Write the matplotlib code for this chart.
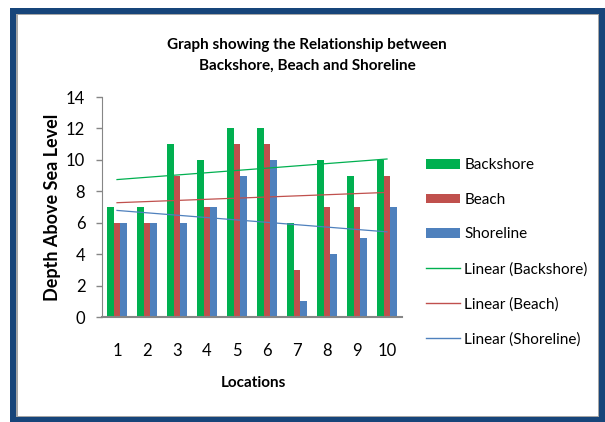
import matplotlib
matplotlib.use("Agg")
import matplotlib.pyplot as plt
import numpy as np
from matplotlib.patches import Rectangle, Patch
from matplotlib.lines import Line2D

plt.rcParams['font.family'] = ['Lato', 'DejaVu Sans']

locations = [1, 2, 3, 4, 5, 6, 7, 8, 9, 10]
backshore = [7, 7, 11, 10, 12, 12, 6, 10, 9, 10]
beach = [6, 6, 9, 7, 11, 11, 3, 7, 7, 9]
shoreline = [6, 6, 6, 7, 9, 10, 1, 4, 5, 7]
series_names = ["Backshore", "Beach", "Shoreline"]
colors = ["#00B050", "#C0504D", "#4F81BD"]

W, H = 605, 422
fig = plt.figure(figsize=(W / 100, H / 100), dpi=100)


def fx(px):
    return px / W


def fy(py):
    return 1 - py / H


# outer frame: dark blue border with a thin grey inner rule
fig.patches.append(Rectangle((fx(10), fy(422)), fx(595), 414 / H,
                             transform=fig.transFigure, facecolor="#17457A",
                             edgecolor="none", zorder=-3))
fig.patches.append(Rectangle((fx(16), fy(417)), fx(583), 403 / H,
                             transform=fig.transFigure, facecolor="#A6A6A6",
                             edgecolor="none", zorder=-2))
fig.patches.append(Rectangle((fx(17.5), fy(415.5)), fx(580), 400.5 / H,
                             transform=fig.transFigure, facecolor="white",
                             edgecolor="none", zorder=-1))

ax = fig.add_axes([fx(102), fy(317), fx(300), 220 / H])
ax.set_zorder(2)
ax.set_facecolor("none")

x = np.array(locations, dtype=float)
bw = 0.222
for k, (vals, name, c) in enumerate(zip([backshore, beach, shoreline], series_names, colors)):
    ax.bar(x + (k - 1) * bw, vals, width=bw, color=c, label=name, zorder=2)

# linear trend lines
for vals, c in zip([backshore, beach, shoreline], colors):
    m, b = np.polyfit(x, vals, 1)
    ax.plot([x[0], x[-1]], [m * x[0] + b, m * x[-1] + b], color=c, lw=0.9, zorder=3)

ax.set_xlim(0.5, 10.5)
ax.set_ylim(0, 14)
ax.set_yticks(range(0, 15, 2))
ax.set_xticks(locations)
ax.tick_params(axis='x', length=0, pad=19, labelsize=12)
ax.tick_params(axis='y', length=4, width=1, color="#868686", pad=8, labelsize=12)
for s in ("top", "right"):
    ax.spines[s].set_visible(False)
ax.spines["left"].set_color("#868686")
ax.spines["bottom"].set_color("#868686")
ax.spines["bottom"].set_linewidth(1.5)

ax.set_ylabel("Depth Above Sea Level", fontsize=13, fontweight="bold", labelpad=4)
fig.text(fx(253), fy(383), "Locations", ha="center", va="center",
         fontsize=11, fontweight="bold")

fig.text(fx(307), fy(45), "Graph showing the Relationship between",
         ha="center", va="center", fontsize=11, fontweight="bold")
fig.text(fx(307), fy(66), "Backshore, Beach and Shoreline",
         ha="center", va="center", fontsize=11, fontweight="bold")

handles = [Patch(facecolor=c, edgecolor="none") for c in colors]
handles += [Line2D([], [], color=c, lw=1.0) for c in colors]
labels = series_names + ["Linear (%s)" % n for n in series_names]
fig.legend(handles, labels, loc="upper left", bbox_to_anchor=(fx(420), fy(152)),
           frameon=False, fontsize=11, handlelength=2.2, handleheight=0.6,
           handletextpad=0.3, labelspacing=1.35, borderaxespad=0)

fig.savefig("out.png", dpi=100)
